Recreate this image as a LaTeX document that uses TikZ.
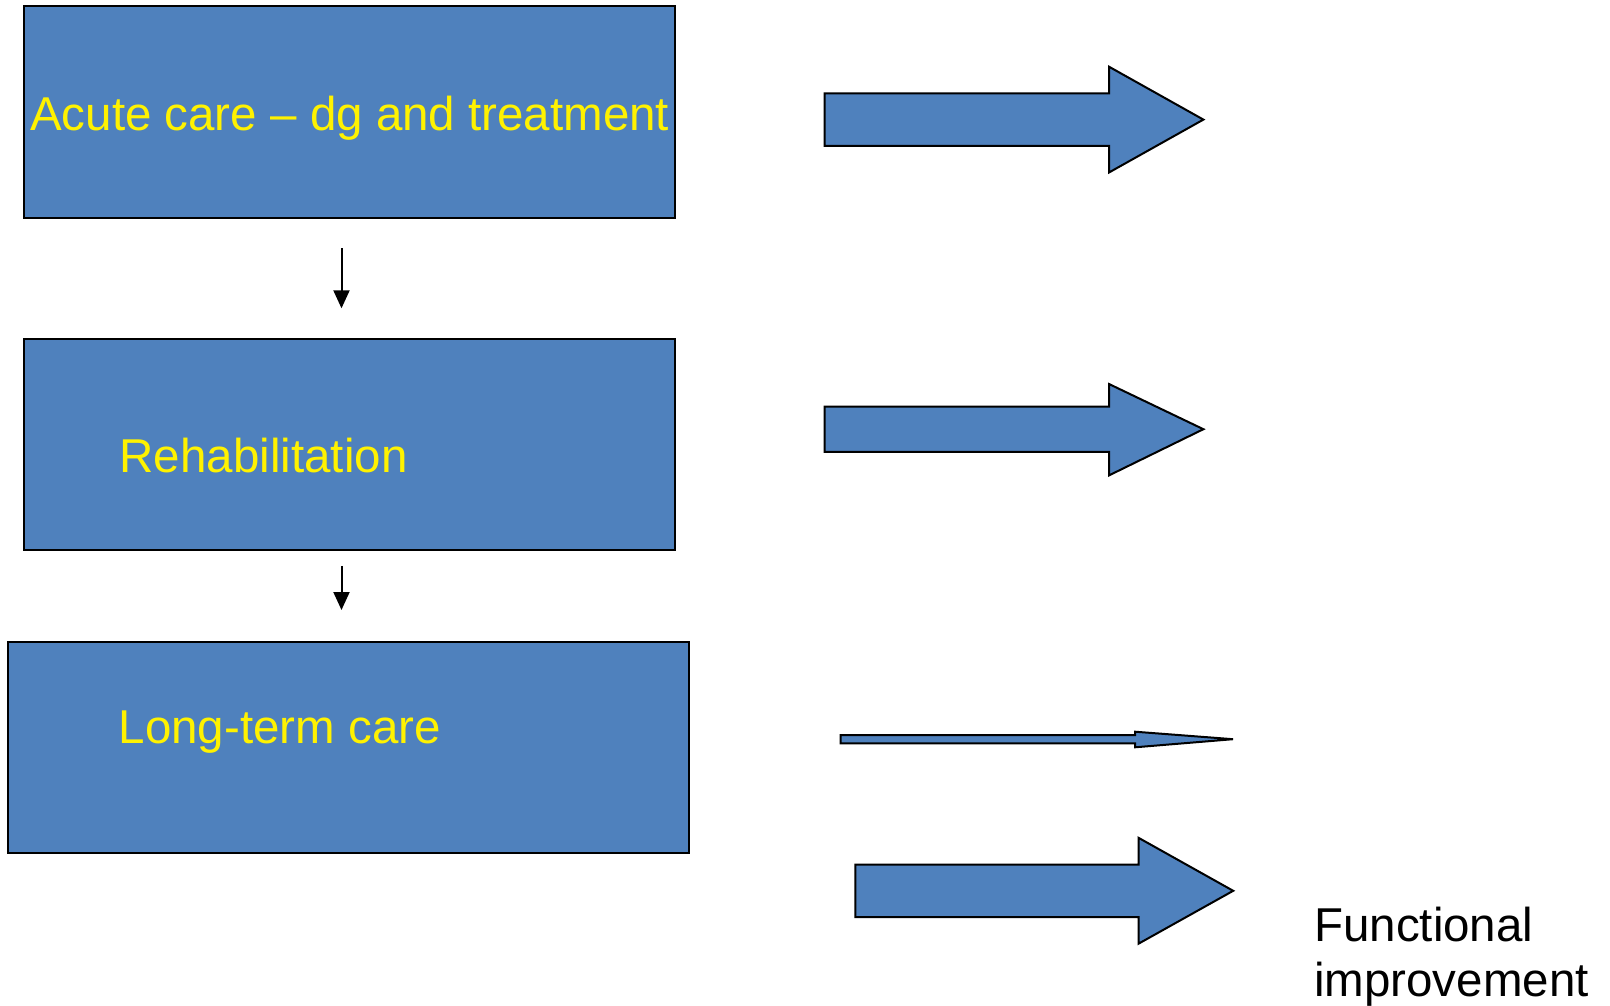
\documentclass[tikz,border=0pt]{standalone}
\usepackage{fontspec}
\setmainfont{Liberation Sans}
\usetikzlibrary{arrows.meta}
\definecolor{boxblue}{RGB}{79,129,189}
\begin{document}
\begin{tikzpicture}[x=1pt,y=-1pt,
  box/.style={draw=black,line width=2pt,fill=boxblue,inner sep=0pt},
  blockarrow/.style={draw=black,line width=2pt,fill=boxblue,line join=miter},
  boxtext/.style={text=yellow,font=\fontsize{47.5}{55}\selectfont,inner sep=0pt},
  plaintext/.style={text=black,font=\fontsize{47.5}{55}\selectfont,inner sep=0pt},
  downarrow/.style={draw=black,line width=2pt,-{Triangle[length=18pt,width=16pt]}}]
\useasboundingbox (0,0) rectangle (1610,1006);
% boxes
\node[box,minimum width=651pt,minimum height=211.5pt] (acute) at (349.1,112) {};
\node[box,minimum width=651pt,minimum height=211.6pt] (rehab) at (349.1,444.6) {};
\node[box,minimum width=680.8pt,minimum height=211.6pt] (longterm) at (348.6,747.5) {};
% box texts
\node[boxtext,anchor=base] (acutetxt) at (349.7,130.4) {Acute care – dg and treatment};
\node[boxtext,anchor=base west] (rehabtxt) at (119.5,472) {Rehabilitation};
\node[boxtext,anchor=base west] (longtxt) at (118.5,743) {Long-term care};
% down arrows
\coordinate (d1s) at (341.5,248.3);
\coordinate (d1e) at (341.5,308.3);
\coordinate (d2s) at (341.5,565.8);
\coordinate (d2e) at (341.5,610);
\draw[downarrow] (d1s) -- (d1e);
\draw[downarrow] (d2s) -- (d2e);
% block arrows
\path[blockarrow] (824.5,93.4) -- (1109,93.4) -- (1109,66.7) -- (1203.4,119.6) -- (1109,172.5) -- (1109,145.8) -- (824.5,145.8) -- cycle;
\path[blockarrow] (824.5,406.6) -- (1109,406.6) -- (1109,384) -- (1203.4,429.2) -- (1109,475.4) -- (1109,451.8) -- (824.5,451.8) -- cycle;
\path[blockarrow] (840.5,735) -- (1135,735) -- (1135,731.7) -- (1233,739.2) -- (1135,747.3) -- (1135,743.3) -- (840.5,743.3) -- cycle;
\path[blockarrow] (855.3,864.6) -- (1138.7,864.6) -- (1138.7,837.9) -- (1233.2,890.8) -- (1138.7,943.6) -- (1138.7,917) -- (855.3,917) -- cycle;
% label
\node[plaintext,anchor=base west] (func1) at (1314,941.6) {Functional};
\node[plaintext,anchor=base west] (func2) at (1314,996) {improvement};
\end{tikzpicture}
\end{document}
